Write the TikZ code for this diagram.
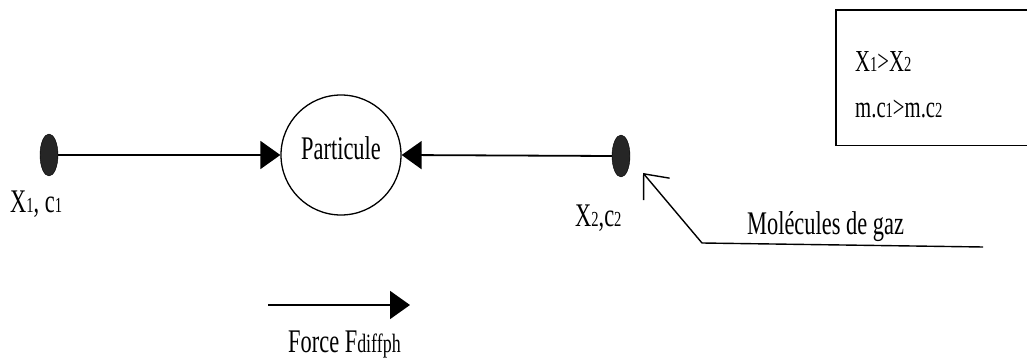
\documentclass[tikz,border=0pt]{standalone}
\usepackage{fontspec}
\setmainfont{Liberation Serif}
\usetikzlibrary{arrows.meta,shapes.geometric}
\newcommand\tallt[1]{\scalebox{1.12}[1.65]{#1}}
\newcommand\sbx[1]{{\fontsize{13}{13}\selectfont #1}}
\newcommand\sby[1]{{\fontsize{16}{16}\selectfont #1}}
\begin{document}
\begin{tikzpicture}[x=1pt,y=-1pt,
  lbl/.style={font=\fontsize{20}{24}\selectfont, inner sep=0pt, anchor=base west},
  boxlbl/.style={font=\fontsize{18.5}{22}\selectfont, inner sep=0pt, anchor=base west},
  dotnode/.style={ellipse, fill=black!85, draw=black, minimum width=18pt, minimum height=42pt, inner sep=0pt},
  force/.style={line width=1.8pt, -{Triangle[length=20pt,width=28pt]}},
  gas/.style={line width=1.4pt, -{Straight Barb[length=20pt,width=34pt,line width=1.4pt]}}
]
\useasboundingbox (0,0) rectangle (1027,363);
\clip (0,0) rectangle (1027,363);

% dots
\node[dotnode] (d1) at (49,155) {};
\node[dotnode] (d2) at (621,156) {};
% particle
\node[circle, draw, line width=1.3pt, minimum size=120pt, inner sep=0pt] (p) at (341,155) {};
\node[lbl, anchor=base] (pt) at (341,160) {\tallt{Particule}};

% arrows to particle
\draw[force] (d1.east) -- (p.west);
\draw[force] (d2.west) -- (p.east);

% labels
\node[lbl] (l1) at (10,213) {\tallt{X\sbx{1}, c\sbx{1}}};
\node[lbl] (l2) at (575,226) {\tallt{X\sbx{2},c\sbx{2}}};

% gas molecules arrow
\coordinate (m1) at (983,247);
\coordinate (m2) at (702,243);
\coordinate (mt) at (643,173);
\draw[gas] (m1) -- (m2) -- (mt);
\node[lbl] (gaz) at (747,235) {\tallt{Molécules de gaz}};

% condition box (right side runs off the picture)
\node[draw=none, anchor=north west, minimum width=260pt, minimum height=135pt,
      inner sep=0pt] (box) at (836,10) {};
\draw[line width=1.3pt] (box.north east) -- (box.north west) -- (box.south west) -- (box.south east);
\node[boxlbl] (c1) at (855,72) {\tallt{X\sbx{1}>X\sbx{2}}};
\node[boxlbl] (c2) at (855,118) {\tallt{m.c\sbx{1}>m.c\sbx{2}}};

% force arrow
\coordinate (fs) at (268,305);
\coordinate (fe) at (410,305);
\draw[force] (fs) -- (fe);
\node[lbl] (fl) at (288,352) {\tallt{Force F\sby{diffph}}};
\end{tikzpicture}
\end{document}
